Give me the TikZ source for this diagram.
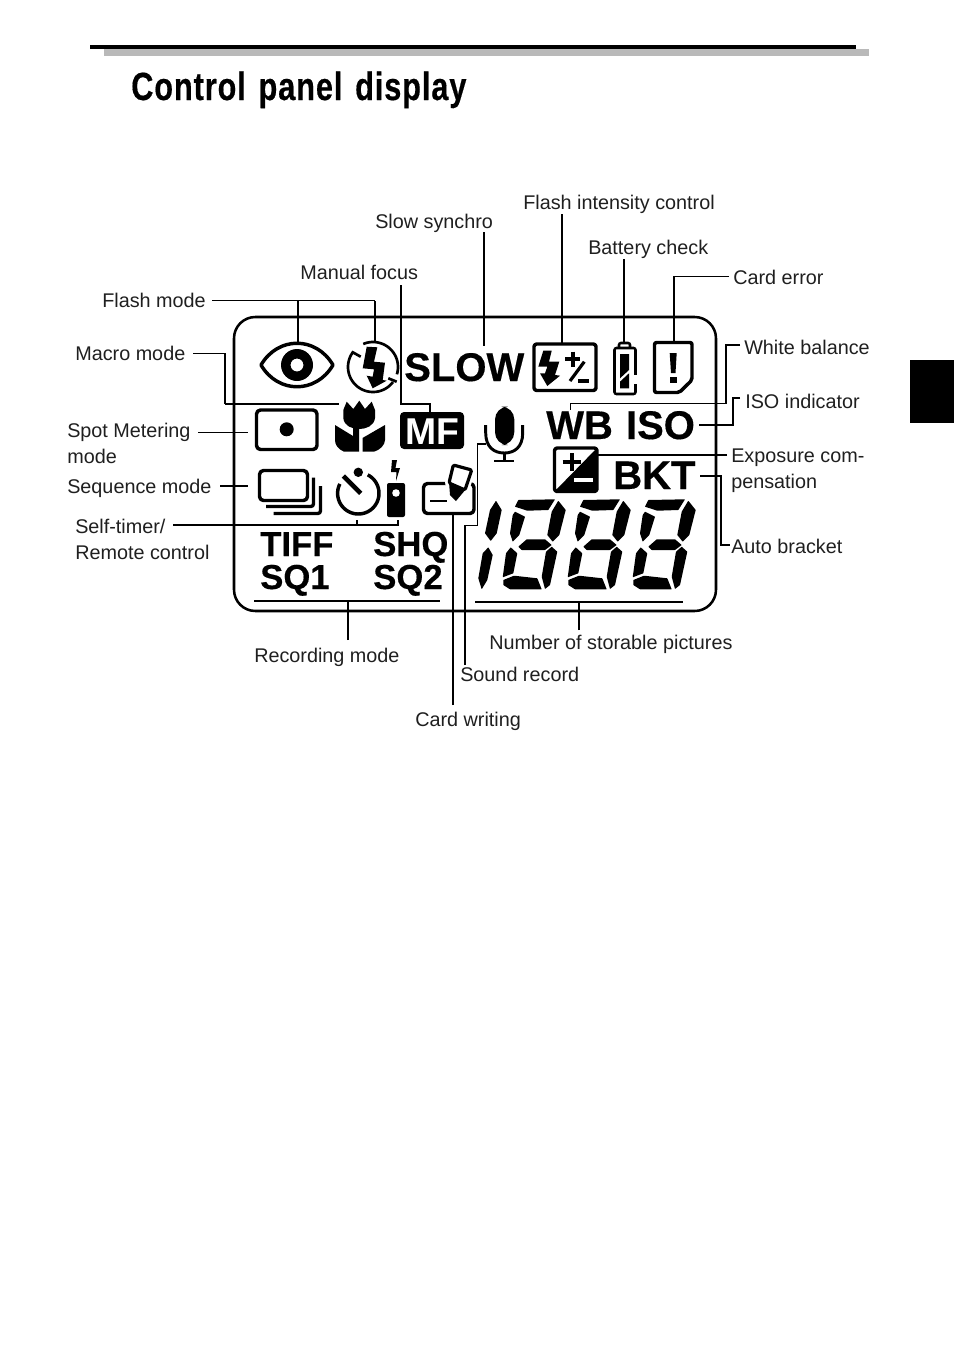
\documentclass[tikz,border=0pt]{standalone}
\usepackage{fontspec}
\setmainfont{Liberation Sans}
\newfontfamily\titlefont[LetterSpace=3,WordSpace=1.35,FakeBold=.5]{Liberation Sans Bold}
\newfontfamily\lcdfont[FakeBold=.4]{Liberation Sans Bold}
\definecolor{rulegray}{HTML}{B9B9B9}
\tikzset{
  lbl/.style={anchor=base west,inner sep=0pt,align=left,text=black!88,font=\fontsize{14.85}{19.5}\selectfont},
  lcdbig/.style={anchor=base west,inner sep=0pt,font=\fontsize{30}{30}\lcdfont},
  lcdsmall/.style={anchor=base west,inner sep=0pt,font=\fontsize{26}{26}\lcdfont},
  lead/.style={line width=1.3pt},
  leadthin/.style={line width=.85pt},
  icon/.style={line width=2.6pt,line join=round},
  seg/.style={fill=black,rounded corners=.3pt}
}
\begin{document}
\begin{tikzpicture}[x=.75pt,y=-.75pt]
\useasboundingbox (0,0) rectangle (954,1346);
% page furniture
\fill[rulegray] (104,49) rectangle (869,56);
\fill[black] (90,44.5) rectangle (856,49);
\fill[black] (910,360) rectangle (954,423);
\node[anchor=base west,inner sep=0pt] (title) at (131,100) {\scalebox{.78}[1]{\titlefont\fontsize{29.5}{30}\selectfont Control panel display}};
% panel outline
\draw[line width=1.9pt,rounded corners=16pt] (234,317) rectangle (716,611);
% lcd words
\node[lcdbig] (slow) at (404,381) {SLOW};
\node[lcdbig] (wbiso) at (546,439) {WB\kern1.5pt\ ISO};
\node[lcdbig] (bkt) at (613,489) {BKT};
\node[lcdsmall] (tiff) at (260,556) {TIFF};
\node[lcdsmall] (shq) at (373,556) {SHQ};
\node[lcdsmall] (sqone) at (260,589) {SQ1};
\node[lcdsmall] (sqtwo) at (373,589) {SQ2};
\fill[black,rounded corners=3pt] (400,412) rectangle (464,449);
\node[lcdbig,text=white,font=\fontsize{28}{28}\selectfont\bfseries] (mf) at (405,444) {MF};
% red-eye icon
\draw[icon] (261,365) .. controls (278,336) and (316,336) .. (333,365) .. controls (316,394) and (278,394) .. (261,365) -- cycle;
\fill[black,even odd rule] (297,365) circle (16) (297,365) circle (6.5);
% flash icon
\draw[icon,line width=2pt] plot[domain=113:-17,samples=30] ({373+25*cos(\x)},{367-25*sin(\x)});
\draw[icon,line width=2pt] plot[domain=-37:-216,samples=40] ({373+25*cos(\x)},{367-25*sin(\x)});
\draw[line width=2pt] (351.7,351.7) -- (360.7,356.7) (388.3,378.3) -- (396.7,381.7);
\fill[black] (366.7,346.7) -- (377.3,347.3) -- (374,361.7) -- (385,362.7) -- (382.7,380) -- (386.7,380.7) -- (372.7,388.3) -- (366.7,375.7) -- (372.7,376.7) -- (374,369.3) -- (362.7,368.3) -- cycle;
% flash intensity icon
\draw[icon,rounded corners=2pt] (534,344) rectangle (596,390.5);
\fill[black] (543.3,350.7) -- (551.7,350.7) -- (549,361.7) -- (559.3,361.7) -- (555,375) -- (560,375.7) -- (547.3,386) -- (540,373.3) -- (545,373.3) -- (547.3,366.7) -- (538.3,366.7) -- cycle;
\draw[line width=3pt] (565,359) -- (580,359) (572.5,351.5) -- (572.5,366.5);
\draw[line width=2.4pt] (584.3,361.7) -- (570,381);
\draw[line width=3pt] (578,381) -- (589.3,381);
% battery icon
\draw[line width=1.9pt,rounded corners=1.5pt] (614.5,348) rectangle (635.5,394);
\draw[line width=1.9pt,rounded corners=1.5pt] (619,348) -- (619,343) -- (630,343) -- (630,348);
\fill[black] (620,354) -- (629,354) -- (629,370) -- (620,378.3) -- cycle;
\fill[black] (620,381.7) -- (629,373.3) -- (629,388.3) -- (620,388.3) -- cycle;
\fill[white] (633,375) rectangle (638,384);
% card error icon
\draw[icon,rounded corners=1.5pt] (654.5,342.5) -- (692,342.5) -- (692,380) -- (679.3,392.5) -- (654.5,392.5) -- cycle;
\fill[black] (669.7,353) -- (676.7,353) -- (675.5,373) -- (671,373) -- cycle;
\fill[black] (669.7,377) rectangle (676.7,382.7);
% macro icon
\fill[black] (346.7,401.7) -- (353.3,409) -- (359.3,400.7) -- (365,409) -- (371.7,401.7) -- (375,410) -- (375,418) .. controls (374,426) and (366,429) .. (359.3,429) .. controls (352,429) and (344,426) .. (343.3,418) -- (343.3,410) -- cycle;
\fill[black] (335,425) -- (353,436) -- (353,428) -- (359,428) -- (359,451.7) -- (344,451.7) .. controls (338,449) and (335,445) .. (335,440) -- cycle;
\fill[black] (362.5,451.7) -- (362.5,438) -- (385,425) -- (385,440) .. controls (385,445) and (380,450) .. (374,451.7) -- cycle;
% spot metering icon
\draw[icon,rounded corners=3pt] (256.5,410) rectangle (317,449.5);
\fill[black] (286.7,429.3) circle (7);
% microphone icon
\fill[black,rounded corners=9.6pt] (495,406.7) rectangle (514.3,445);
\draw[line width=2.2pt] (485.7,425) -- (485.7,433) .. controls (485.7,447) and (494,453) .. (504.3,453) .. controls (514.6,453) and (522.7,447) .. (522.7,433) -- (522.7,425);
\draw[line width=2.2pt] (504.3,453) -- (504.3,461) (494,461) -- (514.3,461);
% exposure icon
\draw[icon,rounded corners=2pt] (554.5,448) rectangle (597,491.5);
\fill[black] (597,448) -- (597,491.5) -- (554.5,491.5) -- cycle;
\draw[line width=3pt] (562.7,462.3) -- (580.7,462.3) (571.7,453.3) -- (571.7,471.3);
\fill[white] (574,477.8) rectangle (593.3,482);
% sequence icon
\draw[icon,rounded corners=3pt] (259.5,470.5) rectangle (307.5,500.5);
\draw[line width=2.5pt,rounded corners=2pt] (266,506.5) -- (313.5,506.5) -- (313.5,477.5);
\draw[line width=2.5pt,rounded corners=2pt] (273.5,513.5) -- (320.5,513.5) -- (320.5,486);
% self-timer and remote icon
\draw[icon] plot[domain=63:-207,samples=50] ({358.3+20.7*cos(\x)},{493.3-20.7*sin(\x)});
\fill[black] (358.3,472.3) circle (4.7);
\draw[line width=3.4pt] (343.3,476) -- (360.7,493.3);
\fill[black,rounded corners=1.5pt] (387,483) rectangle (405,517);
\fill[white] (396,493) circle (3.8);
\fill[black] (392,460) -- (397,460) -- (395.5,468) -- (400,468) -- (396,481) -- (396.5,472) -- (391,472) -- cycle;
% card writing icon
\draw[icon,rounded corners=3pt] (423.5,483.5) rectangle (474,513.5);
\draw[line width=2.2pt] (430,501) -- (446.7,501);
\draw[white,fill=white,line width=6pt,line join=round] (453.3,465) -- (471.7,470) -- (465,490) -- (449,483) -- cycle;
\draw[line width=2.4pt,line join=round,rounded corners=1pt] (453.3,465) -- (471.7,470) -- (465,490) -- (449,483) -- cycle;
\fill[black] (449,482) -- (466,489) -- (456,501) -- (450,495) -- cycle;
% big digits
\fill[seg] (496,500.7) -- (501.7,510) -- (496.7,533.3) -- (490.7,541) -- (485,533.3) -- (490,510) -- cycle;
\fill[seg] (488.3,547.3) -- (492.7,555) -- (487.3,580) -- (481.7,589.3) -- (478.3,578.3) -- (482.7,553.3) -- cycle;
\foreach \x in {0,65,130} % one lot of segments per digit
{
\fill[seg,shift={(\x,0)}] (518.3,500) -- (555,499.3) -- (548.3,510) -- (527.3,510.7) -- (515,506.7) -- cycle;
\fill[seg,shift={(\x,0)}] (515,511.7) -- (525,516.7) -- (519.3,535) -- (512.7,541.7) -- (510,533.3) -- (512.7,515) -- cycle;
\fill[seg,shift={(\x,0)}] (558.3,500.7) -- (565.7,510) -- (559.3,535) -- (552.7,541.7) -- (547.3,535) -- (551.7,511.7) -- cycle;
\fill[seg,shift={(\x,0)}] (518.3,546.7) -- (526.7,539.3) -- (545,539.3) -- (551.7,545) -- (545,550) -- (521.7,550) -- cycle;
\fill[seg,shift={(\x,0)}] (510.7,547.3) -- (517.3,553.3) -- (513.3,573.3) -- (502.7,577.3) -- (506,553.3) -- cycle;
\fill[seg,shift={(\x,0)}] (551.7,546.7) -- (557.3,551.7) -- (550,585) -- (545,589) -- (541.7,576.7) -- (546,551.7) -- cycle;
\fill[seg,shift={(\x,0)}] (503.3,580) -- (514,575.7) -- (537.3,578.3) -- (541.7,589.3) -- (510,589.3) -- (503.3,585) -- cycle;
}
% labels
\node[lbl] (flashlbl) at (102,307) {Flash mode};
\node[lbl] (macrolbl) at (75,360) {Macro mode};
\node[lbl] (spotlbl) at (67,463) {Spot Metering\\mode};
\node[lbl] (seqlbl) at (67,493) {Sequence mode};
\node[lbl] (selflbl) at (75,559) {Self-timer/\\Remote control};
\node[lbl] (manuallbl) at (300,279) {Manual focus};
\node[lbl] (slowlbl) at (375,228) {Slow synchro};
\node[lbl] (intenslbl) at (523,209) {Flash intensity control};
\node[lbl] (batlbl) at (588,254) {Battery check};
\node[lbl] (errlbl) at (733,284) {Card error};
\node[lbl] (wblbl) at (744,354) {White balance};
\node[lbl] (isolbl) at (745,408) {ISO indicator};
\node[lbl] (explbl) at (731,488) {Exposure com-\\pensation};
\node[lbl] (autolbl) at (731,553) {Auto bracket};
\node[lbl] (reclbl) at (254,662) {Recording mode};
\node[lbl] (numlbl) at (489,649) {Number of storable pictures};
\node[lbl] (soundlbl) at (460,681) {Sound record};
\node[lbl] (cardlbl) at (415,726) {Card writing};
% ends of the connectors
\foreach \nm/\x/\y in {flasha/212/300.5,flashb/375/300.5,eye/298/343,bolt/375/341,macroa/193/353.5,macrob/339/404,
  manuala/401/285,manualb/430/412,slowa/484/232,slowb/484/346,intensa/562/214,intensb/562/344,
  bata/624/259,batb/624/342,erra/729/276.5,errb/674/342,wba/740/345,wbb/570.5/410,
  isoa/740/398,isob/699/425,expa/727/455,expb/598/455,autoa/700/476,autob/730/545,
  spota/198/432.5,spotb/248/432.5,seqa/220/486,seqb/248/486,selfa/173/525,selfb/398/520,selfc/357/520,
  reca/348/640,recb/348/601,bara/254/601,barb/440/601,numa/579/630,numb/579/602,barc/475/602,bard/683/602,
  sounda/465/665,soundb/486/444,carda/453/705,cardb/453/515}
\coordinate (\nm) at (\x,\y);
% connectors
\draw[lead] (flasha) -- (flashb);
\draw[leadthin] (eye) -- (eye |- flasha);
\draw[leadthin] (bolt) -- (bolt |- flasha);
\draw[lead] (macroa) -- (225,353.5) -- (225,404);
\draw[leadthin] (225,404) -- (macrob);
\draw[lead] (manuala) -- (401,404) -- (manualb |- 0,404) -- (manualb);
\draw[lead] (slowa) -- (slowb);
\draw[lead] (intensa) -- (intensb);
\draw[lead] (bata) -- (batb);
\draw[lead] (erra) -- (674,276.5) -- (errb);
\draw[leadthin] (wba) -- (726,345) -- (726,403.5) -- (570.5,403.5) -- (wbb);
\draw[leadthin] (isoa) -- (733,398) -- (733,425) -- (isob);
\draw[leadthin] (expa) -- (expb);
\draw[leadthin] (autoa) -- (721,476) -- (721,545) -- (autob);
\draw[lead] (spota) -- (spotb);
\draw[lead] (seqa) -- (seqb);
\draw[leadthin] (selfa) -- (398,525) -- (selfb);
\draw[leadthin] (selfc) -- (357,525);
\draw[lead] (bara) -- (barb);
\draw[lead] (reca) -- (recb);
\draw[lead] (barc) -- (bard);
\draw[leadthin] (numa) -- (numb);
\draw[leadthin] (sounda) -- (465,525.5) -- (477.5,525.5) -- (477.5,444) -- (soundb);
\draw[lead] (carda) -- (cardb);
\end{tikzpicture}
\end{document}
